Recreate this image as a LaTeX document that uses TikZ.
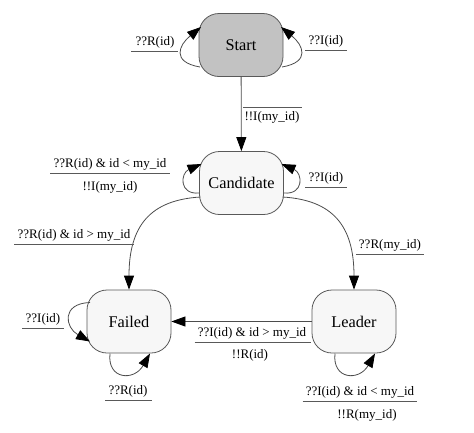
\documentclass[tikz,border=0pt]{standalone}
\usepackage{fontspec}
\setmainfont{Liberation Serif}
\usetikzlibrary{arrows.meta,calc}
\begin{document}
\begin{tikzpicture}[x=1pt,y=-1pt,
  state/.style={draw=black!65, line width=0.8pt, rounded corners=20pt,
    minimum width=84pt, minimum height=63pt, fill=black!3,
    font=\fontsize{16.3}{19}\selectfont, inner sep=0pt},
  startstate/.style={state, fill=black!24},
  lab/.style={font=\fontsize{13}{15}\selectfont, inner sep=0pt, text=black},
  rule/.style={draw=black!65, line width=0.8pt},
  edgeline/.style={draw=black!70, line width=0.8pt,
    -{Triangle[length=14pt,width=10pt,color=black]}}]
\useasboundingbox (0,0) rectangle (474,432);

% states
\node[startstate] (start) at (241,45) {Start};
\node[state] (cand) at (241.5,183) {Candidate};
\node[state] (failed) at (129,321.5) {Failed};
\node[state] (leader) at (354,321.5) {Leader};

% transitions
\draw[edgeline] (start) -- (cand);
\draw[edgeline] ($(cand)+(-41,14)$) .. controls ($(cand)+(-91,17)$) and ($(failed)+(0,-96)$) .. (failed.north);
\draw[edgeline] ($(cand)+(41,14)$) .. controls ($(cand)+(91,17)$) and ($(leader)+(0,-96)$) .. (leader.north);
\draw[edgeline] (leader.west) -- (leader.west -| failed.east);

% self loops
\draw[edgeline] ($(start)+(-41,22)$) .. controls ($(start)+(-70,17)$) and ($(start)+(-62,0)$) .. ($(start)+(-40,-18)$);
\draw[edgeline] ($(start)+(41,22)$) .. controls ($(start)+(70,17)$) and ($(start)+(62,0)$) .. ($(start)+(40,-18)$);
\draw[edgeline] ($(cand)+(-42,10)$) .. controls ($(cand)+(-63,12)$) and ($(cand)+(-61,-10)$) .. ($(cand)+(-40,-19)$);
\draw[edgeline] ($(cand)+(42,10)$) .. controls ($(cand)+(63,12)$) and ($(cand)+(61,-10)$) .. ($(cand)+(40,-19)$);
\draw[edgeline] ($(failed)+(-39,-19)$) .. controls ($(failed)+(-68,-18)$) and ($(failed)+(-64,6)$) .. ($(failed)+(-39,20)$);
\draw[edgeline] ($(failed)+(-19,32)$) .. controls ($(failed)+(-22,58)$) and ($(failed)+(5,60)$) .. ($(failed)+(21,32)$);
\draw[edgeline] ($(leader)+(-19,32)$) .. controls ($(leader)+(-22,58)$) and ($(leader)+(5,60)$) .. ($(leader)+(21,32)$);

% labels
\node[lab] (l1) at (155,42.5) {??R(id)};
\draw[rule] ([xshift=-4pt,yshift=-3pt]l1.south west) -- ([xshift=3pt,yshift=-3pt]l1.south east);
\node[lab] (l2) at (326,41) {??I(id)};
\draw[rule] ([xshift=-3pt,yshift=-3pt]l2.south west) -- ([xshift=3pt,yshift=-3pt]l2.south east);
\node[lab] (l3) at (272,117) {!!I(my\_id)};
\draw[rule] ([xshift=-1pt,yshift=3pt]l3.north west) -- ([xshift=2pt,yshift=3pt]l3.north east);

\node[lab] (l4) at (110,164) {??R(id) \& id < my\_id};
\draw[rule] ([xshift=-3pt,yshift=-3pt]l4.south west) -- ([xshift=3pt,yshift=-3pt]l4.south east);
\node[lab] (l4b) at (110,187) {!!I(my\_id)};
\node[lab] (l5) at (326,178) {??I(id)};
\draw[rule] ([xshift=-3pt,yshift=-3pt]l5.south west) -- ([xshift=3pt,yshift=-3pt]l5.south east);

\node[lab] (l6) at (74,235) {??R(id) \& id > my\_id};
\draw[rule] ([xshift=-3pt,yshift=-3pt]l6.south west) -- ([xshift=3pt,yshift=-3pt]l6.south east);
\node[lab] (l7) at (390,245.5) {??R(my\_id)};
\draw[rule] ([xshift=-3pt,yshift=-3pt]l7.south west) -- ([xshift=3pt,yshift=-3pt]l7.south east);

\node[lab] (l8) at (43,319) {??I(id)};
\draw[rule] ([xshift=-3pt,yshift=-3pt]l8.south west) -- ([xshift=3pt,yshift=-3pt]l8.south east);
\node[lab] (l9) at (128,391) {??R(id)};
\draw[rule] ([xshift=-3pt,yshift=-3pt]l9.south west) -- ([xshift=4pt,yshift=-3pt]l9.south east);

\node[lab] (l10) at (252,333.5) {??I(id) \& id > my\_id};
\draw[rule] ([xshift=-3pt,yshift=-3pt]l10.south west) -- ([xshift=5pt,yshift=-3pt]l10.south east);
\node[lab] (l10b) at (250,355) {!!R(id)};

\node[lab] (l11) at (360,392) {??I(id) \& id < my\_id};
\draw[rule] ([xshift=-3pt,yshift=-3pt]l11.south west) -- ([xshift=3pt,yshift=-3pt]l11.south east);
\node[lab] (l11b) at (367,415) {!!R(my\_id)};
\end{tikzpicture}
\end{document}
